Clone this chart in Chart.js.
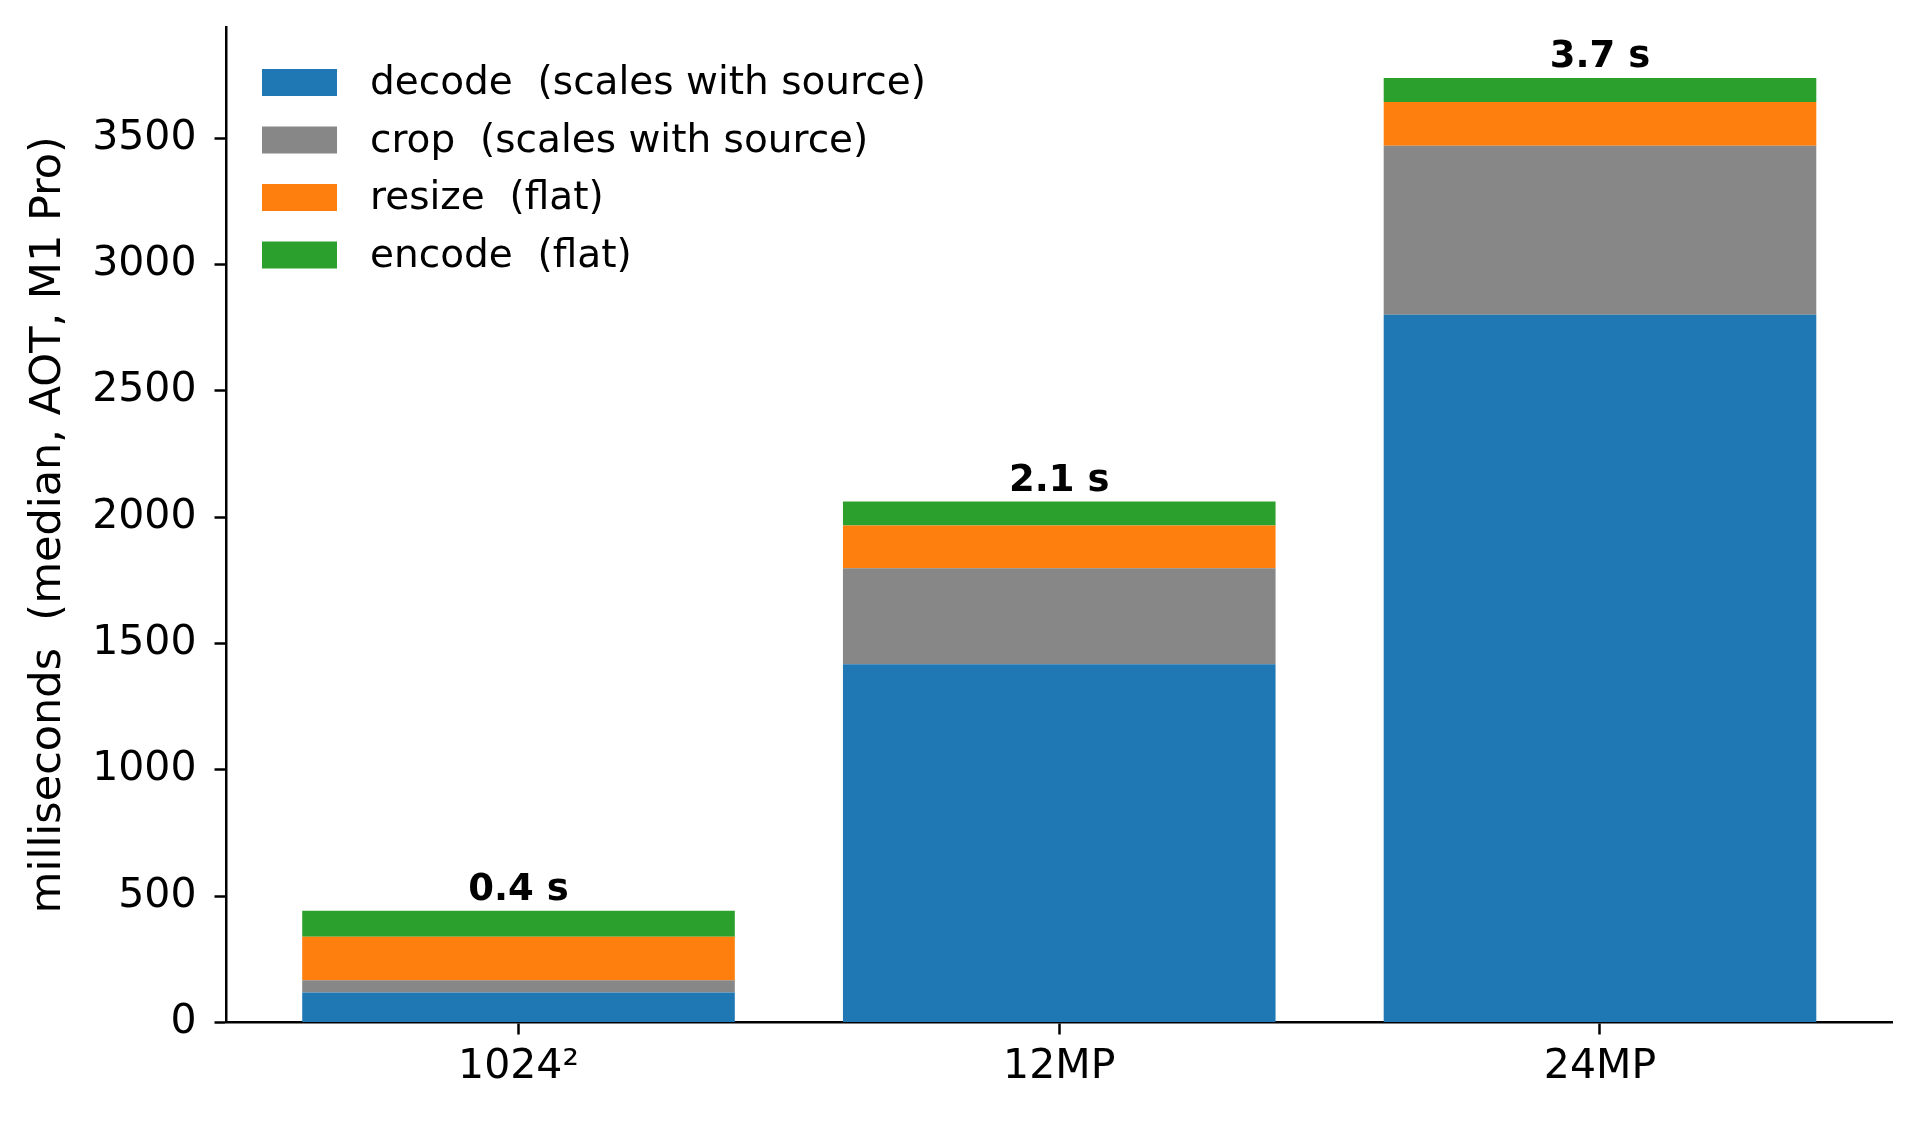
<!DOCTYPE html>
<html>
<head>
<meta charset="utf-8">
<title>Pipeline timing by image size</title>
<script src="https://cdn.jsdelivr.net/npm/chart.js@4.4.1/dist/chart.umd.min.js"></script>
<style>
  html, body { margin: 0; padding: 0; background: #fff; }
  #wrap { width: 1920px; height: 1125px; }
</style>
</head>
<body>
<div id="wrap"><canvas id="myChart" width="1920" height="1125"></canvas></div>
<script>
// values, in milliseconds
const categories = ["1024\u00b2", "12MP", "24MP"];
const decodeMs = [119, 1418, 2801];
const cropMs = [48, 380, 669];
const resizeMs = [172, 169, 173];
const encodeMs = [103, 95, 95];
const seriesNames = ["decode  (scales with source)", "crop  (scales with source)", "resize  (flat)", "encode  (flat)"];
const seriesColors = ["#1f77b4", "#878787", "#ff7f0e", "#2ca02c"];
const yTicks = [0, 500, 1000, 1500, 2000, 2500, 3000, 3500];

const totals = categories.map((c, i) => decodeMs[i] + cropMs[i] + resizeMs[i] + encodeMs[i]);

//legend sits inside the plot, top left like matplotlib
const legendInside = {
  id: 'legendInside',
  afterDraw(chart) {
    const { ctx, chartArea } = chart;
    ctx.save();
    ctx.font = '39px "DejaVu Sans"';
    ctx.textBaseline = 'middle';
    ctx.textAlign = 'left';
    chart.data.datasets.forEach((ds, i) => {
      const y = chartArea.top + 55.5 + i * 57.5;
      ctx.fillStyle = ds.backgroundColor;
      ctx.fillRect(chartArea.left + 35.5, y - 13.5, 75, 27);
      ctx.fillStyle = '#000';
      ctx.fillText(ds.label, chartArea.left + 143.5, y + 1.5);
    });
    ctx.restore();
  }
};

//total in seconds above every stack
const totalLabels = {
  id: 'totalLabels',
  afterDatasetsDraw(chart) {
    const { ctx } = chart;
    const meta = chart.getDatasetMeta(chart.data.datasets.length - 1);
    ctx.save();
    ctx.font = 'bold 37px "DejaVu Sans"';
    ctx.textAlign = 'center';
    ctx.textBaseline = 'alphabetic';
    ctx.fillStyle = '#000';
    meta.data.forEach((bar, i) => {
      ctx.fillText((totals[i] / 1000).toFixed(1) + ' s', bar.x, bar.y - 11);
    });
    ctx.restore();
  }
};

const seriesValues = [decodeMs, cropMs, resizeMs, encodeMs];

new Chart(document.getElementById('myChart'), {
  type: 'bar',
  data: {
    datasets: seriesValues.map((vals, k) => ({
      label: seriesNames[k],
      data: vals.map((v, i) => ({ x: i, y: v })),
      backgroundColor: seriesColors[k],
      borderWidth: 0,
      barPercentage: 0.8,
      categoryPercentage: 1
    }))
  },
  options: {
    responsive: false,
    animation: false,
    layout: { padding: { top: 27, right: 28, left: 0, bottom: 0 } },
    plugins: {
      legend: { display: false },
      tooltip: { enabled: false }
    },
    scales: {
      x: {
        type: 'linear',
        stacked: true,
        offset: false,
        min: -0.54,
        max: 2.54,
        afterBuildTicks: (scale) => { scale.ticks = categories.map((c, i) => ({ value: i })); },
        afterFit: (scale) => { scale.height = 102.5; },
        ticks: {
          callback: (v) => categories[v],
          color: '#000',
          font: { family: 'DejaVu Sans', size: 41 },
          padding: 8,
          maxRotation: 0,
          autoSkip: false
        },
        grid: { display: true, offset: false, drawOnChartArea: false, drawTicks: true, tickLength: 12, tickWidth: 2.5, tickColor: '#000' },
        border: { display: true, color: '#000', width: 2.5 }
      },
      y: {
        stacked: true,
        min: 0,
        max: 3940,
        afterBuildTicks: (scale) => { scale.ticks = yTicks.map(v => ({ value: v })); },
        afterFit: (scale) => { scale.width = 226.5; scale.paddingTop = 0; scale.paddingBottom = 0; },
        ticks: {
          callback: (v) => String(v),
          color: '#000',
          font: { family: 'DejaVu Sans', size: 41 },
          padding: 18
        },
        title: {
          display: true,
          text: 'milliseconds  (median, AOT, M1 Pro)',
          color: '#000',
          font: { family: 'DejaVu Sans', size: 43, lineHeight: 1 },
          padding: { top: 27, bottom: 0 }
        },
        grid: { display: true, drawOnChartArea: false, drawTicks: true, tickLength: 12, tickWidth: 2.5, tickColor: '#000' },
        border: { display: true, color: '#000', width: 2.5 }
      }
    }
  },
  plugins: [legendInside, totalLabels]
});
</script>
</body>
</html>
